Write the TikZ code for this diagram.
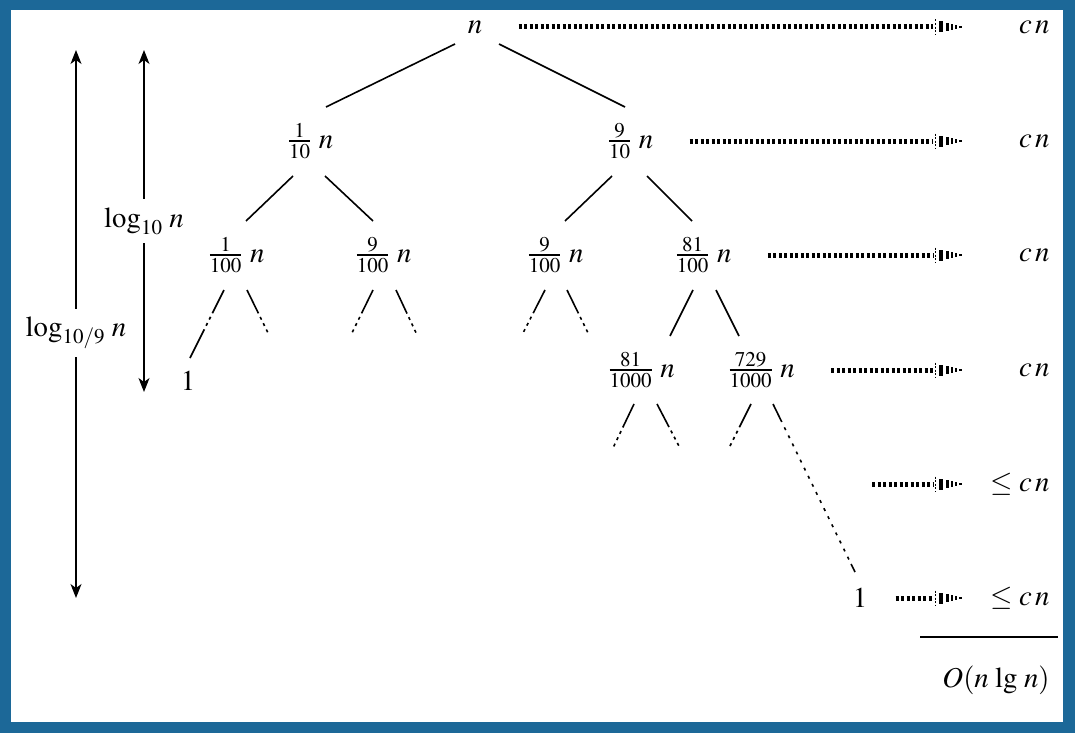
\documentclass[tikz,border=0pt]{standalone}
\usepackage{amsmath}
\usepackage{mathptmx}
\usetikzlibrary{arrows.meta}
\DeclareMathSizes{14.4}{14.4}{10.5}{7.5}
\definecolor{frameblue}{RGB}{28,104,152}
\newcommand{\sharefrac}[2]{\genfrac{}{}{0.9pt}{}{#1}{#2}}

\begin{document}
\begin{tikzpicture}[x=0.5pt,y=-0.5pt,
	    lbl/.style={font=\Large,inner sep=2pt},
	    edge/.style={line width=0.8pt},
	    fade/.style={edge,dash pattern=on 13pt off 2pt on 1.5pt off 2pt on 1.5pt off 2pt on 1.5pt off 30pt},
	    fadeleaf/.style={edge,dash pattern=on 13pt off 2pt on 1.5pt off 2pt on 1.5pt off 2pt on 40pt},
	    longfade/.style={edge,dash pattern=on 10pt off 3pt on 1.5pt off 3pt on 1.5pt off 3pt on 1.5pt off 3pt on 1.5pt off 3pt on 1.5pt off 3pt on 1.5pt off 3pt on 1.5pt off 3pt on 1.5pt off 3pt on 1.5pt off 3pt on 1.5pt off 3pt on 1.5pt off 3pt on 1.5pt off 3pt on 1.5pt off 3pt on 1.5pt off 3pt on 1.5pt off 3pt on 1.5pt off 3pt on 1.5pt off 2.5pt on 14pt},
	    flow/.style={line width=2.5pt,dash pattern=on 1.5pt off 1.25pt,shorten <=16pt},
	    span/.style={line width=0.6pt,{Stealth[length=7pt,width=5.5pt,inset=2pt]}-{Stealth[length=7pt,width=5.5pt,inset=2pt]}},
	    tipbars/.pic={
	        \draw[line width=0.4pt,dash pattern=on 1pt off 0.8pt] (0,-7.5) -- (0,7.5);
	        \fill (4,-5.5) rectangle (8,5.5);
	        \fill (11,-4) rectangle (14,4);
	        \fill (15.5,-2.7) rectangle (18,2.7);
	        \fill (20,-2) rectangle (22,2);
	        \fill (24,-1) rectangle (27,1);
	    }]
	    % frame
	    \fill[frameblue] (0,0) rectangle (1075,733);
	    \fill[white] (11,10) rectangle (1063,722);
	    % tree
	    \node[lbl] (root) at (475,27) {$n$};
	    \node[lbl] (a) at (310,141) {$\sharefrac{1}{10}\;n$};
	    \node[lbl] (b) at (630,141) {$\sharefrac{9}{10}\;n$};
	    \node[lbl] (aa) at (236,255) {$\sharefrac{1}{100}\;n$};
	    \node[lbl] (ab) at (383,255) {$\sharefrac{9}{100}\;n$};
	    \node[lbl] (ba) at (555,255) {$\sharefrac{9}{100}\;n$};
	    \node[lbl] (bb) at (703,255) {$\sharefrac{81}{100}\;n$};
	    \node[lbl] (bba) at (641,370) {$\sharefrac{81}{1000}\;n$};
	    \node[lbl] (bbb) at (761,370) {$\sharefrac{729}{1000}\;n$};
	    \node[lbl] (leafl) at (188,381) {$1$};
	    \node[lbl] (leafr) at (860,598) {$1$};
	    \draw[edge] ([shift={(-20,17)}]root.center) -- ([shift={(16,-34)}]a.center);
	    \draw[edge] ([shift={(24,17)}]root.center) -- ([shift={(-5,-34)}]b.center);
	    \draw[edge] ([shift={(-17,35)}]a.center) -- ([shift={(10,-34)}]aa.center);
	    \draw[edge] ([shift={(15,35)}]a.center) -- ([shift={(-10,-34)}]ab.center);
	    \draw[edge] ([shift={(-18,35)}]b.center) -- ([shift={(10,-34)}]ba.center);
	    \draw[edge] ([shift={(17,35)}]b.center) -- ([shift={(-11,-34)}]bb.center);
	    \draw[edge] ([shift={(-10,35)}]bb.center) -- ([shift={(29,-34)}]bba.center);
	    \draw[edge] ([shift={(13,35)}]bb.center) -- ([shift={(-22,-34)}]bbb.center);
	    % edges that fade out
	    \coordinate (aa-r) at (270,337);
	    \coordinate (ab-l) at (350,337);
	    \coordinate (ab-r) at (418,337);
	    \coordinate (ba-l) at (521,337);
	    \coordinate (ba-r) at (590,337);
	    \coordinate (bba-l) at (612,450);
	    \coordinate (bba-r) at (681,450);
	    \coordinate (bbb-l) at (728,450);
	    \draw[fadeleaf] ([shift={(-12,35)}]aa.center) -- ([shift={(2,-23)}]leafl.center);
	    \draw[fade] ([shift={(11,35)}]aa.center) -- (aa-r);
	    \draw[fade] ([shift={(-10,35)}]ab.center) -- (ab-l);
	    \draw[fade] ([shift={(13,35)}]ab.center) -- (ab-r);
	    \draw[fade] ([shift={(-10,35)}]ba.center) -- (ba-l);
	    \draw[fade] ([shift={(12,35)}]ba.center) -- (ba-r);
	    \draw[fade] ([shift={(-7,34)}]bba.center) -- (bba-l);
	    \draw[fade] ([shift={(16,34)}]bba.center) -- (bba-r);
	    \draw[fade] ([shift={(-10,34)}]bbb.center) -- (bbb-l);
	    \draw[longfade] ([shift={(12,34)}]bbb.center) -- ([shift={(-5,-26)}]leafr.center);
	    % cost per level
	    \foreach \y [count=\i from 0] in {27,141,255,370,484,598} {
	        \coordinate (e\i) at (933,\y);
	        \pic at (935,\y) {tipbars};
	    }
	    \coordinate (s4) at (872,484);
	    \draw[flow] (root) -- (e0);
	    \draw[flow] (b) -- (e1);
	    \draw[flow] (bb) -- (e2);
	    \draw[flow] (bbb) -- (e3);
	    \draw[flow,shorten <=0pt] (s4) -- (e4);
	    \draw[flow,shorten <=12pt] (leafr) -- (e5);
	    \node[lbl,anchor=east] (c0) at (1054,27) {$c\,n$};
	    \node[lbl,anchor=east] (c1) at (1054,141) {$c\,n$};
	    \node[lbl,anchor=east] (c2) at (1054,255) {$c\,n$};
	    \node[lbl,anchor=east] (c3) at (1054,370) {$c\,n$};
	    \node[lbl,anchor=east] (c4) at (1054,484) {$\le c\,n$};
	    \node[lbl,anchor=east] (c5) at (1054,598) {$\le c\,n$};
	    \draw[line width=0.6pt] (920,637) -- (1058,637);
	    \node[lbl,anchor=east] (total) at (1054,680) {$O(n\,\lg\,n)$};
	    % heights
	    \coordinate (t1) at (76,50);
	    \coordinate (b1) at (76,598);
	    \coordinate (t2) at (144,50);
	    \coordinate (b2) at (144,392);
	    \draw[span] (t1) -- (b1) node[lbl,pos=0.516,fill=white,inner sep=4pt] (h1) {$\log_{10/9}\,n$};
	    \draw[span] (t2) -- (b2) node[lbl,pos=0.5,fill=white,inner sep=4pt] (h2) {$\log_{10}\,n$};
	\end{tikzpicture}
\end{document}
